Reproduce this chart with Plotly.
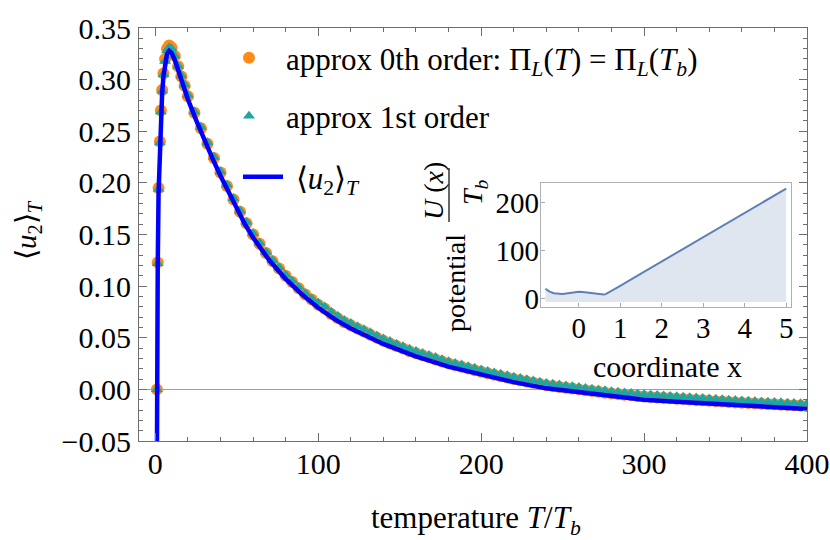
import plotly.graph_objects as go

FONT = "Liberation Serif"

# ---------------- main curve <u2>_T ----------------
T_line = [0.97, 1.0, 1.2, 1.5, 2.0, 2.8, 3.4, 4.2, 5, 6, 7.2, 8.5, 10, 12, 14, 16, 18, 20,
          25, 30, 35, 40, 45, 50, 55, 60, 70, 80, 90, 100, 110, 120, 130, 140, 150, 160,
          180, 200, 220, 240, 260, 280, 300, 320, 340, 360, 380, 400]
u_line = [-0.08, 0.0, 0.065, 0.12, 0.19, 0.238, 0.266, 0.287, 0.303, 0.316, 0.325, 0.328,
          0.326, 0.319, 0.309, 0.299, 0.290, 0.281, 0.261, 0.242, 0.224, 0.207, 0.191,
          0.175, 0.160, 0.147, 0.125, 0.107, 0.092, 0.079, 0.068, 0.059, 0.051, 0.044,
          0.038, 0.032, 0.022, 0.014, 0.007, 0.001, -0.003, -0.007, -0.010, -0.012,
          -0.014, -0.016, -0.0175, -0.019]

# ---------------- sampled approximations ----------------
T_pts = [1, 1.5, 2, 2.8, 3.4, 4.2, 5, 6, 7.2, 8.5, 10, 12, 14, 16, 18,
         20, 24, 28, 32, 36, 40, 44, 48, 52, 56, 60, 64, 68, 72, 76, 80, 84, 88, 92, 96,
         100, 104, 108, 112, 116, 120, 124, 128, 132, 136, 140, 144, 148, 152, 156, 160,
         164, 168, 172, 176, 180, 184, 188, 192, 196, 200, 204, 208, 212, 216, 220, 224,
         228, 232, 236, 240, 244, 248, 252, 256, 260, 264, 268, 272, 276, 280, 284, 288,
         292, 296, 300, 304, 308, 312, 316, 320, 324, 328, 332, 336, 340, 344, 348, 352,
         356, 360, 364, 368, 372, 376, 380, 384, 388, 392, 396, 400]

u_0th = [0.000, 0.123, 0.195, 0.240, 0.270, 0.290, 0.306, 0.320, 0.330, 0.333, 0.331,
         0.323, 0.313, 0.303, 0.294,
         0.284, 0.268, 0.253, 0.238, 0.224, 0.210, 0.197, 0.184, 0.172, 0.161, 0.150,
         0.141, 0.132, 0.124, 0.117, 0.110, 0.104, 0.098, 0.092, 0.087,
         0.082, 0.078, 0.073, 0.069, 0.065, 0.062, 0.059, 0.056, 0.053, 0.050, 0.047,
         0.0445, 0.042, 0.0395, 0.037, 0.035, 0.033, 0.031, 0.029, 0.027, 0.025, 0.0234,
         0.0218, 0.0202, 0.0186, 0.017, 0.0156, 0.0142, 0.0128, 0.0114, 0.010, 0.0088,
         0.0076, 0.0064, 0.0052, 0.004, 0.0032, 0.0024, 0.0016, 0.0008, 0.0, -0.0008,
         -0.0016, -0.0024, -0.0032, -0.004, -0.0046, -0.0052, -0.0058, -0.0064, -0.007,
         -0.0074, -0.0078, -0.0082, -0.0086, -0.009, -0.0094, -0.0098, -0.0102, -0.0106,
         -0.011, -0.0114, -0.0118, -0.0122, -0.0126, -0.013, -0.0133, -0.0136, -0.0139,
         -0.0142, -0.0145, -0.0148, -0.0151, -0.0154, -0.0157, -0.016]

u_1st = [0.000, 0.122, 0.194, 0.239, 0.269, 0.289, 0.305, 0.318, 0.328, 0.331, 0.330,
         0.323, 0.313, 0.304, 0.295,
         0.285, 0.269, 0.254, 0.239, 0.225, 0.211, 0.198, 0.185, 0.173, 0.162, 0.151,
         0.142, 0.133, 0.125, 0.118, 0.111, 0.105, 0.099, 0.093, 0.088,
         0.084, 0.080, 0.075, 0.071, 0.067, 0.064, 0.061, 0.058, 0.055, 0.052, 0.049,
         0.0465, 0.044, 0.0415, 0.039, 0.037, 0.035, 0.033, 0.031, 0.029, 0.027, 0.0254,
         0.0238, 0.0222, 0.0206, 0.019, 0.0176, 0.0162, 0.0148, 0.0134, 0.012, 0.0108,
         0.0096, 0.0084, 0.0072, 0.006, 0.0052, 0.0044, 0.0036, 0.0028, 0.002, 0.0012,
         0.0004, -0.0004, -0.0012, -0.002, -0.0026, -0.0032, -0.0038, -0.0044, -0.005,
         -0.0054, -0.0058, -0.0062, -0.0066, -0.007, -0.0074, -0.0078, -0.0082, -0.0086,
         -0.009, -0.0094, -0.0098, -0.0102, -0.0106, -0.011, -0.0113, -0.0116, -0.0119,
         -0.0122, -0.0125, -0.0128, -0.0131, -0.0134, -0.0137, -0.014]

# ---------------- inset: potential ----------------
x_pot = [-0.8, -0.7, -0.6, -0.5, -0.4, -0.3, -0.2, -0.1, 0.0, 0.1, 0.2, 0.3, 0.4, 0.5,
         0.6, 0.65, 0.7, 0.8, 0.9, 1.0, 1.5, 2.0, 2.5, 3.0, 3.5, 4.0, 4.5, 5.0]
U_pot = [20, 14.5, 11, 9.5, 9.6, 10.6, 12, 13.4, 14, 13.8, 12.8, 11.2, 9.6, 8.4, 8.2,
         9.2, 11.5, 16.3, 21.3, 26.4, 51.7, 77, 102.3, 127.6, 152.9, 178.2, 203.5, 228.8]
U_FLOOR = -7

x_ticks_main = [0, 100, 200, 300, 400]
y_ticks_main = [-0.05, 0.0, 0.05, 0.10, 0.15, 0.20, 0.25, 0.30, 0.35]

# ---------------- figure ----------------
ORANGE = "#FF8A14"
TEAL = "#1FA6A2"
BLUE = "#0000FF"
FRAME = "#6e6e6e"

fig = go.Figure()
fig.add_trace(go.Scatter(
    x=T_pts, y=u_0th, mode="markers",
    marker=dict(symbol="circle", size=12, color=ORANGE, line=dict(width=0)),
    name="approx 0th order: Π<sub><i>L</i></sub>(<i>T</i>) = Π<sub><i>L</i></sub>(<i>T</i><sub><i>b</i></sub>)",
    legendgroup="a", legend="legend"))
fig.add_trace(go.Scatter(
    x=T_pts, y=u_1st, mode="markers",
    marker=dict(symbol="triangle-up", size=10.5, color=TEAL, line=dict(width=0)),
    name="approx 1st order", legendgroup="b", legend="legend"))
fig.add_trace(go.Scatter(
    x=T_line, y=u_line, mode="lines",
    line=dict(color=BLUE, width=4.5),
    name="\u00a0⟨<i>u</i><sub>2</sub>⟩<sub><i>T</i></sub>", legend="legend2"))

fig.add_trace(go.Scatter(
    x=x_pot, y=[U_FLOOR] * len(x_pot), xaxis="x2", yaxis="y2", mode="lines",
    line=dict(width=0, color="rgba(0,0,0,0)"), showlegend=False, hoverinfo="skip"))
fig.add_trace(go.Scatter(
    x=x_pot, y=U_pot, xaxis="x2", yaxis="y2", mode="lines",
    line=dict(color="#5E81B5", width=2), fill="tonexty",
    fillcolor="rgba(94,129,181,0.2)", showlegend=False))

L, R, T, B = 139, 23, 28, 99
W, H = 830, 540
PW, PH = W - L - R, H - T - B


def px(xp):
    return (xp - L) / PW


def py(yp):
    return (H - B - yp) / PH


tickfont = dict(family=FONT, size=30, color="black")
legfont = dict(family=FONT, size=31, color="black")

fig.update_layout(
    width=W, height=H,
    margin=dict(l=L, r=R, t=T, b=B, autoexpand=False),
    paper_bgcolor="white", plot_bgcolor="white",
    showlegend=True,
    legend=dict(x=px(212), y=py(31), xanchor="left", yanchor="top",
                font=legfont, bgcolor="rgba(0,0,0,0)", itemwidth=64,
                tracegroupgap=15, traceorder="grouped"),
    legend2=dict(x=px(238), y=py(150), xanchor="left", yanchor="top",
                 font=legfont, bgcolor="rgba(0,0,0,0)", itemwidth=40),
    xaxis=dict(domain=[0, 1], range=[-10, 400], tickvals=x_ticks_main,
               automargin=False,
               ticks="inside", ticklen=8, tickcolor=FRAME, showline=True,
               linecolor=FRAME, linewidth=1, mirror="ticks", showgrid=False,
               zeroline=False, tickfont=tickfont, ticklabelstandoff=-4,
               minor=dict(dtick=20, tick0=0, ticks="inside", ticklen=4, tickcolor=FRAME)),
    yaxis=dict(domain=[0, 1], range=[-0.05, 0.35], tickvals=y_ticks_main,
               automargin=False,
               tickformat=".2f", ticks="inside", ticklen=8, tickcolor=FRAME,
               showline=True, linecolor=FRAME, linewidth=1, mirror="ticks",
               showgrid=False, zeroline=True, zerolinecolor="#a0a0a0",
               zerolinewidth=1, tickfont=tickfont, ticklabelstandoff=1,
               minor=dict(dtick=0.01, tick0=0, ticks="inside", ticklen=4, tickcolor=FRAME)),
    xaxis2=dict(domain=[px(540.7), px(791)], anchor="y2", range=[-0.916, 5.116],
                automargin=False, ticklabelstandoff=-5,
                dtick=1, tick0=0, ticks="inside", ticklen=4, tickcolor="#aaaaaa",
                showline=True, linecolor="#b0b0b0", mirror=True, showgrid=False,
                zeroline=False, tickfont=dict(family=FONT, size=29, color="black")),
    yaxis2=dict(domain=[py(306.7), py(182.7)], anchor="x2", range=[-17, 241],
                automargin=False, ticklabelstandoff=-5,
                dtick=100, tick0=0, ticks="inside", ticklen=4, tickcolor="#aaaaaa",
                showline=True, linecolor="#b0b0b0", mirror=True, showgrid=False,
                zeroline=False, tickfont=dict(family=FONT, size=29, color="black")),
)

ann = [
    dict(text="⟨<i>u</i><sub>2</sub>⟩<sub><i>T</i></sub>", x=px(28), y=py(230),
         textangle=-90, font=dict(family=FONT, size=29)),
    dict(text="temperature <i>T</i>/<i>T</i><sub><i>b</i></sub>", x=px(476), y=py(520),
         font=dict(family=FONT, size=31)),
    dict(text="coordinate x", x=px(667), y=py(366), font=dict(family=FONT, size=30)),
    dict(text="potential", x=px(455), y=py(283), textangle=-90,
         font=dict(family=FONT, size=28)),
    dict(text="<i>U</i> (<i>x</i>)", x=px(433), y=py(191), textangle=-90,
         font=dict(family=FONT, size=28)),
    dict(text="<i>T</i><sub><i>b</i></sub>", x=px(474), y=py(192), textangle=-90,
         font=dict(family=FONT, size=28)),
]
for a in ann:
    a.update(xref="paper", yref="paper", showarrow=False, xanchor="center",
             yanchor="middle")
    a["font"]["color"] = "black"
fig.update_layout(annotations=ann)

fig.add_shape(type="line", xref="paper", yref="paper", x0=px(449), x1=px(449),
              y0=py(222), y1=py(168), line=dict(color="black", width=1.2))

fig.write_html(
    "out.html",
    config={"displayModeBar": False},
    post_script="document.body.style.margin='0';document.body.style.overflow='hidden';",
)
